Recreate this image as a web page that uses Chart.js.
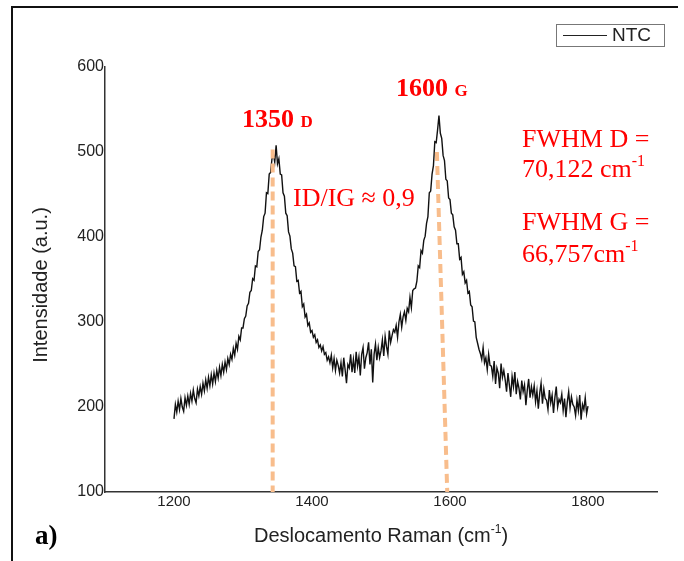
<!DOCTYPE html>
<html>
<head>
<meta charset="utf-8">
<script src="https://cdn.jsdelivr.net/npm/chart.js@4.4.0/dist/chart.umd.min.js"></script>
<style>
  html, body { margin: 0; padding: 0; background: #fff; }
  #grafico { display: block; }
</style>
</head>
<body>
<canvas id="grafico" width="684" height="561"></canvas>
<script>
// Espectro Raman NTC (um ponto a cada 2 cm-1)
const deslocamentoInicio = 1200;
const passo = 2;
const intensidade = [
  186, 203, 194, 207, 197, 210, 200, 195, 211, 202,
  213, 203, 216, 207, 220, 210, 205, 221, 213, 224,
  215, 228, 219, 232, 222, 235, 225, 238, 227, 240,
  230, 243, 234, 247, 237, 250, 241, 253, 244, 257,
  250, 262, 256, 269, 261, 275, 268, 283, 279, 293,
  293, 304, 307, 319, 322, 335, 337, 351, 349, 366,
  365, 383, 385, 400, 408, 424, 428, 452, 451, 474,
  476, 492, 498, 488, 508, 486, 492, 474, 473, 452,
  448, 428, 425, 406, 401, 386, 381, 366, 365, 348,
  349, 334, 336, 318, 321, 306, 309, 296, 299, 288,
  290, 282, 285, 276, 279, 270, 273, 266, 271, 262,
  264, 255, 259, 252, 261, 246, 257, 243, 255, 249,
  240, 252, 236, 258, 244, 228, 250, 246, 262, 241,
  256, 240, 265, 248, 259, 237, 262, 270, 245, 258,
  264, 276, 250, 268, 229, 262, 274, 255, 270, 258,
  266, 279, 260, 283, 271, 262, 290, 276, 284, 291,
  288, 296, 282, 300, 309, 294, 306, 312, 302, 316,
  312, 329, 317, 337, 339, 340, 348, 366, 364, 384,
  381, 396, 401, 416, 424, 452, 454, 474, 484, 512,
  511, 526, 543, 522, 516, 496, 490, 468, 466, 446,
  444, 428, 426, 412, 408, 392, 392, 374, 376, 356,
  359, 346, 349, 334, 336, 320, 318, 301, 300, 282,
  275, 268, 263, 256, 270, 252, 258, 244, 262, 249,
  248, 236, 254, 227, 246, 240, 222, 251, 235, 243,
  232, 218, 240, 226, 212, 236, 224, 241, 215, 230,
  222, 209, 231, 218, 226, 202, 220, 233, 211, 224,
  214, 225, 206, 219, 198, 216, 228, 204, 221, 210,
  208, 197, 220, 205, 214, 193, 211, 224, 200, 209,
  205, 215, 196, 210, 188, 206, 218, 199, 212, 203,
  200, 190, 208, 196, 214, 185, 203, 197, 211, 192,
  201
];

// linhas tracejadas das bandas D e G
const linhaDX = [1343, 1343];
const linhaDY = [503, 100];
const linhaGX = [1581, 1596];
const linhaGY = [500, 100];

const ticksX = [1200, 1400, 1600, 1800];
const ticksY = [100, 200, 300, 400, 500, 600];

const espectro = intensidade.map((v, i) => ({ x: deslocamentoInicio + i * passo, y: v }));
const pontos = (xs, ys) => xs.map((x, i) => ({ x, y: ys[i] }));

const SERIF = '"Liberation Serif", "Times New Roman", serif';
const SANS = '"Liberation Sans", Arial, sans-serif';

// escreve pedaços de texto em sequência (para sobrescritos)
function textoPartes(ctx, partes, x, y, alinhar) {
  let largura = 0;
  partes.forEach(p => { ctx.font = p.font; largura += ctx.measureText(p.t).width; });
  let cx = alinhar === 'center' ? x - largura / 2 : x;
  partes.forEach(p => {
    ctx.font = p.font;
    ctx.fillText(p.t, cx, y + (p.dy || 0));
    cx += ctx.measureText(p.t).width;
  });
}

const anotacoes = {
  id: 'anotacoes',
  afterDraw(chart) {
    const ctx = chart.ctx;
    ctx.save();

    // moldura
    ctx.strokeStyle = '#111';
    ctx.lineWidth = 2;
    ctx.beginPath();
    ctx.moveTo(12, 561);
    ctx.lineTo(12, 7);
    ctx.lineTo(678, 7);
    ctx.stroke();

    // legenda
    ctx.strokeStyle = '#777';
    ctx.lineWidth = 1;
    ctx.strokeRect(556.5, 24.5, 108, 22);
    ctx.strokeStyle = '#222';
    ctx.beginPath();
    ctx.moveTo(563, 35.5);
    ctx.lineTo(607, 35.5);
    ctx.stroke();
    ctx.fillStyle = '#222';
    ctx.textBaseline = 'middle';
    ctx.textAlign = 'left';
    ctx.font = '19px ' + SANS;
    ctx.fillText('NTC', 612, 36);

    // títulos dos eixos
    ctx.save();
    ctx.translate(41, 285);
    ctx.rotate(-Math.PI / 2);
    ctx.textAlign = 'center';
    ctx.font = '20px ' + SANS;
    ctx.fillText('Intensidade (a.u.)', 0, 0);
    ctx.restore();

    ctx.textBaseline = 'alphabetic';
    ctx.textAlign = 'left';
    textoPartes(ctx, [
      { t: 'Deslocamento Raman (cm', font: '20px ' + SANS },
      { t: '-1', font: '12px ' + SANS, dy: -9 },
      { t: ')', font: '20px ' + SANS }
    ], 381, 542, 'center');

    // rótulo do painel
    ctx.fillStyle = '#000';
    ctx.font = 'bold 27px ' + SERIF;
    ctx.fillText('a)', 35, 544);

    // textos em vermelho
    ctx.fillStyle = '#ff0000';
    textoPartes(ctx, [
      { t: '1350 ', font: 'bold 26px ' + SERIF },
      { t: 'D', font: 'bold 17px ' + SERIF }
    ], 242, 127);
    textoPartes(ctx, [
      { t: '1600 ', font: 'bold 26px ' + SERIF },
      { t: 'G', font: 'bold 17px ' + SERIF }
    ], 396, 96);

    ctx.font = '26px ' + SERIF;
    ctx.fillText('ID/IG \u2248 0,9', 293, 206);
    ctx.fillText('FWHM D =', 522, 147);
    textoPartes(ctx, [
      { t: '70,122 cm', font: '26px ' + SERIF },
      { t: '-1', font: '16px ' + SERIF, dy: -11 }
    ], 522, 177);
    ctx.font = '26px ' + SERIF;
    ctx.fillText('FWHM G =', 522, 230);
    textoPartes(ctx, [
      { t: '66,757cm', font: '26px ' + SERIF },
      { t: '-1', font: '16px ' + SERIF, dy: -11 }
    ], 522, 262);

    ctx.restore();
  }
};

new Chart(document.getElementById('grafico'), {
  type: 'line',
  data: {
    datasets: [
      {
        label: 'D',
        data: pontos(linhaDX, linhaDY),
        borderColor: '#f8bd8c',
        borderWidth: 4,
        borderDash: [9, 5],
        pointRadius: 0,
        order: 0
      },
      {
        label: 'G',
        data: pontos(linhaGX, linhaGY),
        borderColor: '#f8bd8c',
        borderWidth: 4,
        borderDash: [9, 5],
        pointRadius: 0,
        order: 0
      },
      {
        label: 'NTC',
        data: espectro,
        borderColor: '#111',
        borderWidth: 1.4,
        pointRadius: 0,
        tension: 0,
        order: 1
      }
    ]
  },
  options: {
    responsive: false,
    devicePixelRatio: 1,
    animation: false,
    events: [],
    layout: { padding: { left: 0, top: 67, right: 27, bottom: 0 } },
    plugins: {
      legend: { display: false },
      tooltip: { enabled: false }
    },
    scales: {
      x: {
        type: 'linear',
        min: 1100,
        max: 1900,
        afterBuildTicks: s => { s.ticks = ticksX.map(v => ({ value: v })); },
        afterFit: s => { s.height = 69; },
        grid: { display: false, drawTicks: false },
        border: { display: true, color: '#333', width: 1.5 },
        ticks: {
          padding: 1,
          color: '#222',
          font: { family: SANS, size: 15 },
          maxRotation: 0,
          callback: v => String(v)
        }
      },
      y: {
        type: 'linear',
        min: 100,
        max: 600,
        afterBuildTicks: s => { s.ticks = ticksY.map(v => ({ value: v })); },
        afterFit: s => { s.width = 105; },
        grid: { display: false, drawTicks: false },
        border: { display: true, color: '#333', width: 1.5 },
        ticks: {
          padding: 1,
          color: '#222',
          font: { family: SANS, size: 16 },
          callback: v => String(v)
        }
      }
    }
  },
  plugins: [anotacoes]
});
</script>
</body>
</html>
